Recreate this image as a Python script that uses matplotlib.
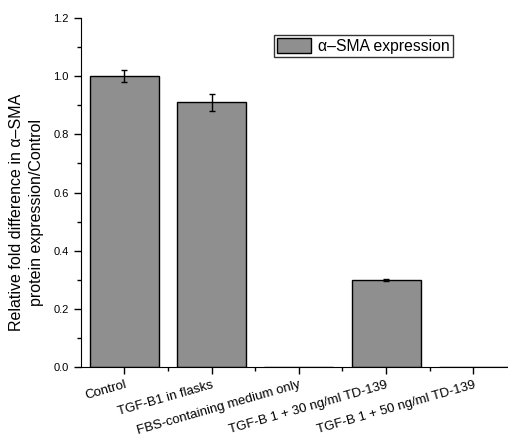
import numpy as np
import matplotlib.pyplot as plt
from matplotlib.ticker import MultipleLocator

plt.rcParams['font.family'] = ['Liberation Sans', 'DejaVu Sans']

groups = ["Control", "TGF-B1 in flasks", "FBS-containing medium only",
          "TGF-B 1 + 30 ng/ml TD-139", "TGF-B 1 + 50 ng/ml TD-139"]
values = [1.0, 0.91, 0.0, 0.30, 0.0]
errors = [0.02, 0.03, 0.0, 0.003, 0.0]

fig = plt.figure(figsize=(5.08, 4.38), dpi=100)
ax = fig.add_axes([0.159, 0.162, 0.85, 0.797])

x = np.arange(len(groups))
ax.bar(x, values, width=0.79, color="#8f8f8f", edgecolor="black", linewidth=1.0,
       label="\u03b1\u2013SMA expression")
for xi, v, e in zip(x, values, errors):
    if v > 0:
        ax.errorbar(xi, v, yerr=e, fmt="none", ecolor="black", elinewidth=1, capsize=2.5, capthick=1)

ax.set_xlim(-0.5, 4.45)
ax.set_ylim(0, 1.2)
ax.yaxis.set_major_locator(MultipleLocator(0.2))
ax.yaxis.set_minor_locator(MultipleLocator(0.1))
ax.set_xticks(x)
ax.set_xticks(x[:-1] + 0.5, minor=True)
ax.set_xticklabels(groups, rotation=16, ha="right", rotation_mode="anchor", fontsize=9.5)
ax.tick_params(axis="y", labelsize=8)
ax.tick_params(which="major", direction="out", length=5, width=1)
ax.tick_params(which="minor", direction="out", length=3, width=1)
ax.yaxis.set_major_formatter(plt.FuncFormatter(lambda v, p: f"{v:.1f}"))

ax.spines["top"].set_visible(False)
ax.spines["right"].set_visible(False)

ax.set_ylabel("Relative fold difference in \u03b1\u2013SMA\nprotein expression/Control",
              fontsize=11.5, linespacing=1.45)
ax.yaxis.set_label_coords(-0.085, 0.444)

leg = ax.legend(loc="upper left", bbox_to_anchor=(0.447, 0.951), fontsize=11.3, frameon=True,
                fancybox=False, edgecolor="black", handlelength=2.2, handleheight=1.1,
                borderpad=0.2, handletextpad=0.4, borderaxespad=0)
leg.get_frame().set_linewidth(1.0)

fig.savefig("out.png", dpi=100)
